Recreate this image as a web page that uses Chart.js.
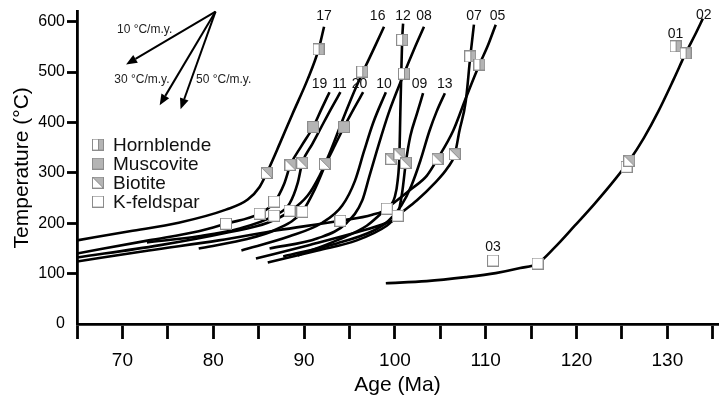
<!DOCTYPE html>
<html>
<head>
<meta charset="utf-8">
<script src="https://cdn.jsdelivr.net/npm/chart.js@4.4.1/dist/chart.umd.min.js"></script>
<style>
  html, body { margin: 0; padding: 0; background: #fff; }
</style>
</head>
<body>
<canvas id="myChart" width="725" height="397"></canvas>
<script>
// cooling paths per sample: [age (Ma), temperature (°C)]
const s17 = [[65.0,166],[70.8,184],[76.2,201],[81.4,227],[83.8,247],[85.1,272],[85.9,300],[87.3,357],[88.7,416],[90.4,486],[91.6,545],[92.2,590]];
const s19 = [[65.0,140],[72.9,166],[78.4,184],[81.4,199],[85.1,219],[86.7,241],[87.8,278],[88.5,316],[89.7,353],[91.0,391],[91.9,426],[92.8,460]];
const s11 = [[72.7,162],[78.4,174],[82.8,189],[86.7,215],[88.4,239],[89.3,280],[89.8,320],[90.9,357],[91.9,391],[93.0,428],[94.0,460]];
const s16 = [[65.0,132],[74.0,156],[81.7,182],[86.0,201],[88.4,223],[90.4,255],[91.7,294],[92.9,343],[94.2,403],[95.3,452],[96.5,501],[97.7,547],[98.8,590]];
const s20 = [[78.4,150],[83.1,166],[87.1,189],[89.8,223],[91.2,268],[92.4,318],[93.4,355],[94.4,391],[95.5,428],[96.5,460]];
const s10 = [[83.1,146],[88.4,174],[92.0,201],[94.2,235],[95.6,284],[96.6,343],[97.6,399],[99.0,460]];
const s08 = [[86.2,150],[91.5,170],[94.7,201],[96.4,245],[97.2,294],[98.0,343],[99.3,418],[101.0,497],[102.1,545],[103.2,590]];
const s12 = [[65.0,124],[72.9,146],[80.6,166],[87.1,186],[94.0,205],[97.5,217],[99.1,229],[100.0,253],[100.3,284],[100.5,337],[100.6,422],[100.7,497],[100.8,564],[100.9,596]];
const s09 = [[84.7,130],[90.4,156],[95.8,182],[99.1,201],[100.3,217],[100.8,261],[101.2,320],[101.7,373],[102.4,416],[103.1,458]];
const s13 = [[87.7,134],[93.6,160],[97.5,184],[99.3,205],[100.7,235],[101.8,274],[102.8,324],[103.8,383],[104.6,422],[105.5,458]];
const s07 = [[86.0,122],[91.5,146],[95.8,166],[99.1,195],[100.3,215],[102.4,245],[104.3,278],[105.8,310],[106.6,337],[107.1,383],[107.8,442],[108.3,531],[108.7,594]];
const s05 = [[89.3,136],[93.6,166],[96.9,195],[99.1,229],[101.8,268],[103.5,294],[104.7,328],[106.4,383],[107.8,448],[109.3,515],[110.2,551],[111.1,594]];
const s02 = [[99.0,81],[103.5,85],[107.8,93],[111.1,101],[113.8,111],[115.7,120],[117.6,152],[119.8,195],[122.0,239],[124.1,284],[125.8,324],[127.4,369],[129.0,422],[130.7,486],[132.0,537],[133.1,576],[133.9,606]];

// mineral ages
const hornblende = [[91.6,545],[96.4,501],[100.8,564],[101.0,497],[108.3,531],[109.3,515],[130.9,551],[132.0,537]];
const muscovite  = [[91.0,391],[94.4,391]];
const biotite    = [[85.9,300],[88.5,316],[89.8,320],[92.3,318],[99.6,328],[100.5,337],[101.2,320],[104.7,328],[106.6,337],[125.8,324]];
const kfeldspar  = [[81.4,199],[85.1,219],[86.7,243],[86.7,215],[88.4,225],[89.8,223],[94.0,205],[99.1,229],[100.3,215],[110.8,126],[115.7,120],[125.5,312]];

// sample labels
const labelText = ['17','16','12','08','07','05','19','11','20','10','09','13','01','02','03'];
const labelAge  = [92.2, 98.1, 100.9, 103.2, 108.7, 111.3, 91.7, 93.9, 96.1, 98.8, 102.7, 105.5, 130.9, 134.0, 110.8];
const labelTemp = [610, 610, 610, 610, 610, 610, 476, 476, 476, 476, 476, 476, 576, 612, 152];

// cooling rate arrows
const arrowFrom = [80.25, 620];
const arrowTipAge  = [70.4, 74.1, 76.4];
const arrowTipTemp = [515, 434, 426];
const rateText = ['10 °C/m.y.', '30 °C/m.y.', '50 °C/m.y.'];
const rateAge  = [69.4, 69.1, 78.1];
const rateTemp = [584, 484, 484];

const xTicks = [65,70,75,80,85,90,95,100,105,110,115,120,125,130,135];
const yTicks = [0,100,200,300,400,500,600];
const minerals = ['Hornblende', 'Muscovite', 'Biotite', 'K-feldspar'];

const curves = [s17, s19, s11, s16, s20, s10, s08, s12, s09, s13, s07, s05, s02];
const curveNames = ['17','19','11','16','20','10','08','12','09','13','07','05','02'];

Chart.defaults.font.family = '"Liberation Sans", Arial, Helvetica, sans-serif';
Chart.defaults.color = '#000';

function toXY(arr) {
    return arr.map(p => ({ x: p[0], y: p[1] }));
}

// little square symbols like in the figure
function markerIcon(kind) {
    const c = document.createElement('canvas');
    c.width = 12;
    c.height = 12;
    const g = c.getContext('2d');
    g.fillStyle = '#fff';
    g.fillRect(0, 0, 12, 12);
    g.fillStyle = '#b4b4b4';
    if (kind === 'Muscovite') g.fillRect(0, 0, 12, 12);
    if (kind === 'Hornblende') g.fillRect(6, 0, 6, 12);
    if (kind === 'Biotite') {
        g.beginPath();
        g.moveTo(0, 0); g.lineTo(12, 0); g.lineTo(12, 12);
        g.closePath();
        g.fill();
    }
    g.strokeStyle = '#8c8c8c';
    g.lineWidth = 1;
    g.strokeRect(0.5, 0.5, 11, 11);
    if (kind === 'Hornblende') {
        g.beginPath(); g.moveTo(6.5, 0); g.lineTo(6.5, 12); g.stroke();
    }
    if (kind === 'Biotite') {
        g.beginPath(); g.moveTo(0, 0); g.lineTo(12, 12); g.stroke();
    }
    return c;
}

const icons = {};
minerals.forEach(m => { icons[m] = markerIcon(m); });

const datasets = [];
// markers on top of the lines
[[hornblende, 'Hornblende', 1], [muscovite, 'Muscovite', 2], [biotite, 'Biotite', 3], [kfeldspar, 'K-feldspar', 4]].forEach(([arr, name, ord]) => {
    datasets.push({
        type: 'scatter',
        label: name,
        data: toXY(arr),
        pointStyle: icons[name],
        pointRadius: 6,
        showLine: false,
        order: ord
    });
});
curves.forEach((arr, i) => {
    datasets.push({
        type: 'line',
        label: 'Sample ' + curveNames[i],
        data: toXY(arr),
        borderColor: '#000',
        borderWidth: 2.6,
        pointRadius: 0,
        fill: false,
        cubicInterpolationMode: 'monotone',
        order: 10
    });
});

const overlay = {
    id: 'overlay',
    afterDraw(chart) {
        const { ctx, scales: { x, y }, chartArea } = chart;
        ctx.save();

        // sample numbers
        ctx.fillStyle = '#111';
        ctx.font = '14px "Liberation Sans", Arial, sans-serif';
        ctx.textAlign = 'center';
        ctx.textBaseline = 'middle';
        labelText.forEach((t, i) => {
            ctx.fillText(t, x.getPixelForValue(labelAge[i]), y.getPixelForValue(labelTemp[i]));
        });

        // arrows
        const ox = x.getPixelForValue(arrowFrom[0]);
        const oy = y.getPixelForValue(arrowFrom[1]);
        ctx.strokeStyle = '#000';
        ctx.fillStyle = '#000';
        ctx.lineWidth = 2;
        arrowTipAge.forEach((a, i) => {
            const tx = x.getPixelForValue(a);
            const ty = y.getPixelForValue(arrowTipTemp[i]);
            const ang = Math.atan2(ty - oy, tx - ox);
            const hl = 11, hw = 4.5;
            const bx = tx - hl * Math.cos(ang);
            const by = ty - hl * Math.sin(ang);
            ctx.beginPath();
            ctx.moveTo(ox, oy);
            ctx.lineTo(bx, by);
            ctx.stroke();
            ctx.beginPath();
            ctx.moveTo(tx, ty);
            ctx.lineTo(bx + hw * Math.sin(ang), by - hw * Math.cos(ang));
            ctx.lineTo(bx - hw * Math.sin(ang), by + hw * Math.cos(ang));
            ctx.closePath();
            ctx.fill();
        });
        ctx.font = '12px "Liberation Sans", Arial, sans-serif';
        ctx.textAlign = 'left';
        ctx.fillStyle = '#222';
        rateText.forEach((t, i) => {
            ctx.fillText(t, x.getPixelForValue(rateAge[i]), y.getPixelForValue(rateTemp[i]));
        });

        // legend
        ctx.font = '19px "Liberation Sans", Arial, sans-serif';
        ctx.fillStyle = '#111';
        minerals.forEach((m, i) => {
            const cy = chartArea.top + 133 + i * 19;
            ctx.drawImage(icons[m], chartArea.left + 15, cy - 6);
            ctx.fillText(m, chartArea.left + 36, cy + 1);
        });
        ctx.restore();
    }
};

const ctx = document.getElementById('myChart');
const myChart = new Chart(ctx, {
    data: { datasets: datasets },
    options: {
        responsive: false,
        animation: false,
        events: [],
        layout: { padding: { top: 10, left: 0, right: 0, bottom: 0 } },
        plugins: {
            legend: { display: false },
            tooltip: { enabled: false }
        },
        scales: {
            x: {
                type: 'linear',
                min: 65,
                max: 135.57,
                afterBuildTicks: s => { s.ticks = xTicks.map(v => ({ value: v })); },
                afterFit: s => { s.height = 73; },
                border: { display: true, color: '#000', width: 2.8 },
                grid: { drawOnChartArea: false, drawTicks: true, tickLength: 15, tickWidth: 2.8, tickColor: '#000' },
                ticks: {
                    color: '#000',
                    font: { size: 19 },
                    padding: 10,
                    maxRotation: 0,
                    autoSkip: false,
                    callback: v => (v % 10 === 0 && v > 65 && v < 135) ? String(v) : ''
                },
                title: {
                    display: true,
                    text: 'Age (Ma)',
                    color: '#000',
                    font: { size: 21, lineHeight: 1 },
                    padding: { top: 0, bottom: 1 }
                }
            },
            y: {
                type: 'linear',
                min: 0,
                max: 620,
                afterBuildTicks: s => { s.ticks = yTicks.map(v => ({ value: v })); },
                afterFit: s => { s.width = 77; },
                border: { display: true, color: '#000', width: 2.8 },
                grid: {
                    drawOnChartArea: false,
                    drawTicks: true,
                    tickLength: 10,
                    tickWidth: 2.8,
                    tickColor: c => (c.tick && c.tick.value === 0) ? 'rgba(0,0,0,0)' : '#000'
                },
                ticks: { color: '#000', font: { size: 16 }, padding: 2, autoSkip: false },
                title: {
                    display: true,
                    text: 'Temperature (°C)',
                    color: '#000',
                    font: { size: 21, lineHeight: 1 },
                    padding: { top: 12, bottom: 0 }
                }
            }
        }
    },
    plugins: [overlay]
});
</script>
</body>
</html>
